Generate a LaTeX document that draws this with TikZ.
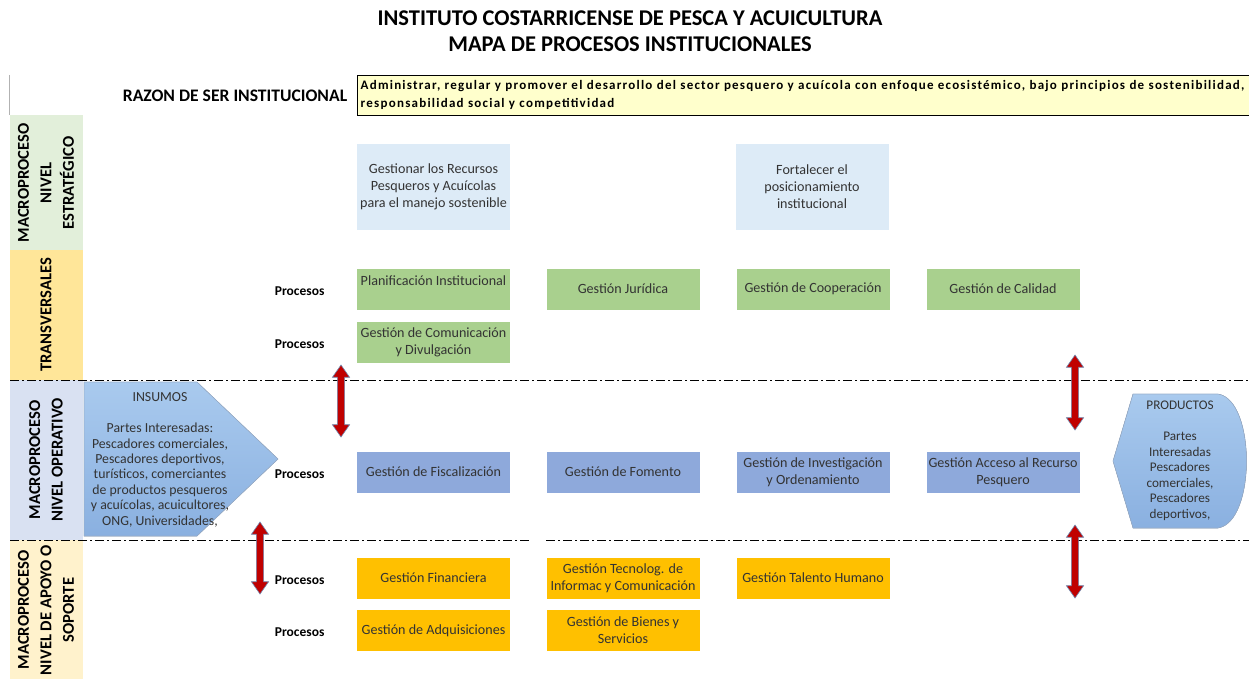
\documentclass[tikz,border=0pt]{standalone}
\usepackage{fontspec}
\setmainfont{Carlito}
\usetikzlibrary{arrows.meta,shapes.arrows}
\definecolor{cestr}{HTML}{E2EFDA}
\definecolor{ctrans}{HTML}{FFE699}
\definecolor{coper}{HTML}{D9E1F2}
\definecolor{capoyo}{HTML}{FFF2CC}
\definecolor{mision}{HTML}{FFFFCC}
\definecolor{celeste}{HTML}{DDEBF7}
\definecolor{verde}{HTML}{A9D08E}
\definecolor{azul}{HTML}{8EA9DB}
\definecolor{naranja}{HTML}{FFC000}
\definecolor{rojo}{HTML}{C00000}
\definecolor{borde}{HTML}{6F8DB5}
\definecolor{claro}{HTML}{A9CAEE}
\definecolor{oscuro}{HTML}{8AB0E0}
\tikzset{b/.style={minimum width=153pt, minimum height=41pt, inner sep=1pt, align=center,
  text=black!80, font=\fontsize{14.1}{17}\selectfont}}
\tikzset{p/.style={anchor=east, font=\bfseries\fontsize{13.5}{14}\selectfont}}
\tikzset{banda/.style={rotate=90, align=center, font=\bfseries\fontsize{16.6}{22.5}\selectfont}}
\tikzset{titulo/.style={font=\bfseries\fontsize{22.5}{23}\selectfont}}
\tikzset{dd/.style={double arrow, fill=rojo, draw=borde, line width=.6pt, inner sep=3.3pt,
  double arrow head extend=5pt, double arrow tip angle=70, rotate=90}}
\tikzset{raya/.style={line width=1pt, dash pattern=on 9pt off 3pt on 2pt off 3pt}}
\tikzset{parte/.style={align=center, text=black!80, font=\fontsize{13.8}{15.4}\selectfont}}
\newcommand{\flecha}[3]{\node[dd, minimum height=#3] (#1) at (#2) {};}
\begin{document}
\begin{tikzpicture}[x=1pt,y=-1pt]
  \useasboundingbox (0,0) rectangle (1249,679);
  \node[titulo] (t1) at (630,18) {INSTITUTO COSTARRICENSE DE PESCA Y ACUICULTURA};
  \node[titulo] (t2) at (630,44) {MAPA DE PROCESOS INSTITUCIONALES};
  \draw[black!30] (9,75) -- (9,115);
  \node[font=\bfseries\fontsize{17.6}{18}\selectfont] (razon) at (235,96) {RAZON DE SER INSTITUCIONAL};
  \node[draw, fill=mision, anchor=north west, text width=886pt, minimum height=40pt,
    inner xsep=3.5pt, inner ysep=2pt, align=left,
    font=\bfseries\fontsize{13}{18}\selectfont\addfontfeature{LetterSpace=9.5}] (mis) at (357,75)
    {Administrar, regular y promover el desarrollo del sector pesquero y acuícola con enfoque ecosistémico, bajo principios de sostenibilidad,\\
     responsabilidad social y competitividad};
  \fill[cestr] (10,115) rectangle (83,250);
  \fill[ctrans] (10,250) rectangle (83,380);
  \fill[coper] (10,380) rectangle (83,540);
  \fill[capoyo] (10,540) rectangle (83,679);
  \node[banda] (bestr) at (46,183) {MACROPROCESO\\NIVEL\\ESTRATÉGICO};
  \node[banda] (btrans) at (46,315) {TRANSVERSALES};
  \node[banda] (boper) at (46,460) {MACROPROCESO\\NIVEL OPERATIVO};
  \node[banda] (bapoyo) at (46,610) {MACROPROCESO\\NIVEL DE APOYO O\\SOPORTE};
  \coordinate (r1a) at (10,380);
  \coordinate (r1b) at (1249,380);
  \coordinate (r2a) at (10,540);
  \coordinate (r2b) at (530,540);
  \coordinate (r2c) at (546,540);
  \coordinate (r2d) at (1249,540);
  \draw[raya] (r1a) -- (r1b);
  \draw[raya] (r2a) -- (r2b) (r2c) -- (r2d);
  \node[b, fill=celeste, minimum height=86pt] (e1) at (433.5,187) {Gestionar los Recursos\\Pesqueros y Acuícolas\\para el manejo sostenible};
  \node[b, fill=celeste, minimum height=86pt] (e2) at (812,187) {Fortalecer el\\posicionamiento\\institucional};
  \node[p] (pt1) at (328,291) {Procesos};
  \node[p] (pt2) at (328,344) {Procesos};
  \node[b, fill=verde] (planif) at (433.5,289) {Planificación Institucional\\~};
  \node[b, fill=verde] (jurid) at (623,289) {Gestión Jurídica};
  \node[b, fill=verde] (coop) at (813,289) {Gestión de Cooperación};
  \node[b, fill=verde] (calid) at (1003,289) {Gestión de Calidad};
  \node[b, fill=verde] (comun) at (433.5,342.5) {Gestión de Comunicación\\y Divulgación};
  \fill[top color=claro, bottom color=oscuro, draw=borde!70, line width=.6pt]
    (84,382) -- (197,382) -- (278,459) -- (197,536) -- (84,536) -- cycle;
  \node[parte] (insumos) at (160,460) {INSUMOS\\ \\Partes Interesadas:\\Pescadores comerciales,\\Pescadores deportivos,\\turísticos, comerciantes\\de productos pesqueros\\y acuícolas, acuicultores,\\ONG, Universidades,};
  \fill[top color=claro, bottom color=oscuro, draw=borde!70, line width=.6pt]
    (1133,394) -- (1218,394) .. controls (1256,400) and (1256,522) .. (1218,528)
    -- (1133,528) -- (1113,461) -- cycle;
  \node[parte, font=\fontsize{13.2}{15.5}\selectfont] (productos) at (1180,461) {PRODUCTOS\\ \\Partes\\Interesadas\\Pescadores\\comerciales,\\Pescadores\\deportivos,};
  \node[p] (po) at (328,474) {Procesos};
  \node[b, fill=azul] (fisc) at (433.5,472) {Gestión de Fiscalización};
  \node[b, fill=azul] (fom) at (623,472) {Gestión de Fomento};
  \node[b, fill=azul] (invest) at (813,472) {Gestión de Investigación\\y Ordenamiento};
  \node[b, fill=azul] (acceso) at (1003,472) {Gestión Acceso al Recurso\\Pesquero};
  \node[p] (pa1) at (328,580) {Procesos};
  \node[p] (pa2) at (328,632) {Procesos};
  \node[b, fill=naranja] (finan) at (433.5,578) {Gestión Financiera};
  \node[b, fill=naranja] (tecno) at (623,578) {Gestión Tecnolog. de\\Informac y Comunicación};
  \node[b, fill=naranja] (talento) at (813,578) {Gestión Talento Humano};
  \node[b, fill=naranja] (adquis) at (433.5,630.5) {Gestión de Adquisiciones};
  \node[b, fill=naranja] (bienes) at (623,630.5) {Gestión de Bienes y\\Servicios};
  \flecha{f1}{341,401}{72pt}
  \flecha{f2}{1075,392.5}{75pt}
  \flecha{f3}{260,558}{72pt}
  \flecha{f4}{1075,561.5}{73pt}
\end{tikzpicture}
\end{document}
